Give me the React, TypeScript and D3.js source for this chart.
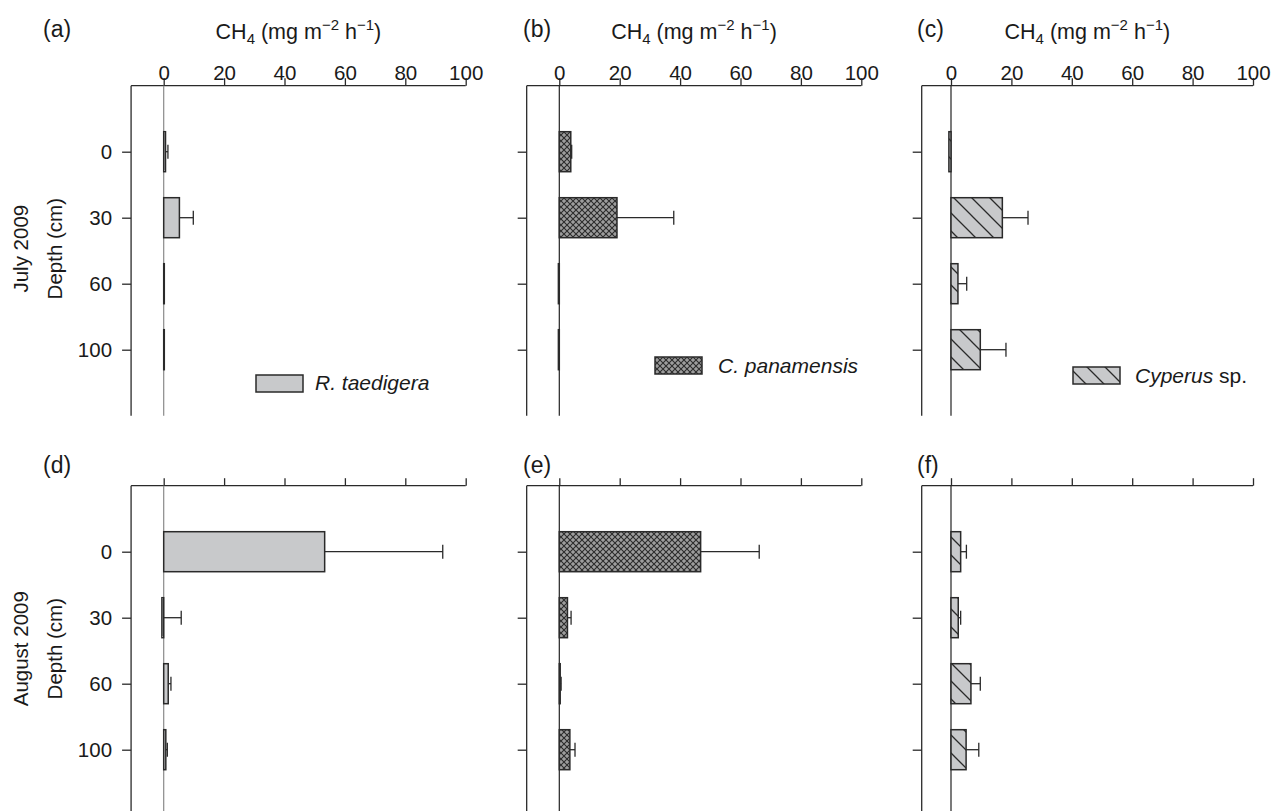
import React, { useRef, useEffect } from 'react';
import * as d3 from 'd3';

// Depth categories and x ticks
const depths = ['0', '30', '60', '100'];
const xTicks = [0, 20, 40, 60, 80, 100];

// July 2009 (mean, SE)
const julyTaedigera = [0.6, 5.2, 0.2, 0.2];
const julyTaedigeraErr = [0.8, 4.6, 0, 0];
const julyPanamensis = [3.8, 19.1, -0.3, -0.3];
const julyPanamensisErr = [0.3, 18.8, 0, 0];
const julyCyperus = [-0.7, 17.0, 2.3, 9.7];
const julyCyperusErr = [0, 8.5, 2.9, 8.5];

// August 2009 (mean, SE)
const augTaedigera = [53.3, -0.6, 1.5, 0.7];
const augTaedigeraErr = [39.1, 6.4, 0.9, 0.5];
const augPanamensis = [46.8, 2.7, 0.3, 3.5];
const augPanamensisErr = [19.4, 1.2, 0.3, 1.7];
const augCyperus = [3.2, 2.4, 6.6, 5.0];
const augCyperusErr = [1.9, 0.8, 3.1, 4.2];

const panelLabels = ['(a)', '(b)', '(c)', '(d)', '(e)', '(f)'];
const rowTitles = ['July 2009', 'August 2009'];
const speciesNames = ['R. taedigera', 'C. panamensis', 'Cyperus'];

const FONT = 'Arial, "Liberation Sans", Helvetica, sans-serif';
const INK = '#2a2a2a';

const App = () => {
  const ref = useRef(null);

  useEffect(() => {
    const svg = d3.select(ref.current);
    svg.selectAll('*').remove();

    // Fill patterns.
    const defs = svg.append('defs');
    defs.append('pattern')
      .attr('id', 'solid')
      .attr('patternUnits', 'userSpaceOnUse')
      .attr('width', 4).attr('height', 4)
      .append('rect').attr('width', 4).attr('height', 4).attr('fill', '#c8c9cb');

    const cross = defs.append('pattern')
      .attr('id', 'cross')
      .attr('patternUnits', 'userSpaceOnUse')
      .attr('width', 6).attr('height', 6);
    cross.append('rect').attr('width', 6).attr('height', 6).attr('fill', '#9d9d9d');
    cross.append('path')
      .attr('d', 'M0,0L6,6M6,0L0,6')
      .attr('stroke', '#2b2b2b').attr('stroke-width', 1.1);

    const hatch = defs.append('pattern')
      .attr('id', 'hatch')
      .attr('patternUnits', 'userSpaceOnUse')
      .attr('width', 18).attr('height', 18);
    hatch.append('rect').attr('width', 18).attr('height', 18).attr('fill', '#c8c9cb');
    hatch.append('path')
      .attr('d', 'M0,0L18,18M-2,16L2,20M16,-2L20,2')
      .attr('stroke', '#2a2a2a').attr('stroke-width', 1.3);

    const fills = ['url(#solid)', 'url(#cross)', 'url(#hatch)'];
    const zeroColors = ['#8a8a8a', '#222', '#222'];

    // Layout per column / row.
    const zeroX = [163.7, 559.3, 951];
    const xMin = [-10.8, -10.8, -9.7];
    const labelX = [43, 523, 917];
    const rowTop = [85.7, 485.7];
    const span = 302;

    const panels = [
      { values: julyTaedigera, errs: julyTaedigeraErr },
      { values: julyPanamensis, errs: julyPanamensisErr },
      { values: julyCyperus, errs: julyCyperusErr },
      { values: augTaedigera, errs: augTaedigeraErr },
      { values: augPanamensis, errs: augPanamensisErr },
      { values: augCyperus, errs: augCyperusErr },
    ];

    panels.forEach((p, i) => {
      const col = i % 3;
      const row = Math.floor(i / 3);
      const top = rowTop[row];
      const g = svg.append('g');

      const x = d3.scaleLinear().domain([0, 100]).range([zeroX[col], zeroX[col] + span]);
      const y = d3.scalePoint().domain(depths).range([top + 66, top + 264]);
      const left = x(xMin[col]);
      const bottom = top + 330;

      // Top axis
      const xAxis = g.append('g')
        .attr('transform', `translate(0,${top})`)
        .call(d3.axisTop(x)
          .tickValues(xTicks)
          .tickSize(7.5)
          .tickPadding(-1.8)
          .tickFormat(row === 0 ? d3.format('d') : () => ''));
      xAxis.select('.domain').remove();
      xAxis.selectAll('line').attr('stroke', INK).attr('stroke-width', 1.3);
      xAxis.selectAll('text')
        .attr('fill', '#1a1a1a')
        .style('font-family', FONT)
        .style('font-size', '20.5px');
      g.append('line')
        .attr('x1', left).attr('x2', x(100))
        .attr('y1', top).attr('y2', top)
        .attr('stroke', INK).attr('stroke-width', 1.3);

      // Left axis
      const yAxis = g.append('g')
        .attr('transform', `translate(${left},0)`)
        .call(d3.axisLeft(y).tickSize(9).tickPadding(10));
      yAxis.select('.domain').remove();
      yAxis.selectAll('line').attr('stroke', INK).attr('stroke-width', 1.3);
      yAxis.selectAll('text')
        .attr('fill', '#1a1a1a')
        .style('font-family', FONT)
        .style('font-size', '20.5px')
        .style('display', col === 0 ? null : 'none');
      g.append('line')
        .attr('x1', left).attr('x2', left)
        .attr('y1', top).attr('y2', bottom)
        .attr('stroke', INK).attr('stroke-width', 1.3);

      // Zero line
      g.append('line')
        .attr('x1', x(0)).attr('x2', x(0))
        .attr('y1', top).attr('y2', bottom)
        .attr('stroke', zeroColors[col]).attr('stroke-width', 1.2);

      const data = depths.map((d, k) => ({ depth: d, v: p.values[k], e: p.errs[k] }));

      // Error bars
      const err = data.filter(d => d.e > 0);
      g.selectAll('.err')
        .data(err)
        .join('line')
        .attr('x1', d => x(d.v)).attr('x2', d => x(d.v + d.e))
        .attr('y1', d => y(d.depth)).attr('y2', d => y(d.depth))
        .attr('stroke', INK).attr('stroke-width', 1.3);
      g.selectAll('.cap')
        .data(err)
        .join('line')
        .attr('x1', d => x(d.v + d.e)).attr('x2', d => x(d.v + d.e))
        .attr('y1', d => y(d.depth) - 7).attr('y2', d => y(d.depth) + 7)
        .attr('stroke', INK).attr('stroke-width', 1.3);

      // Bars
      g.selectAll('.bar')
        .data(data)
        .join('rect')
        .attr('x', d => x(Math.min(0, d.v)))
        .attr('width', d => Math.abs(x(d.v) - x(0)))
        .attr('y', d => y(d.depth) - 20)
        .attr('height', 40)
        .attr('fill', fills[col])
        .attr('stroke', INK)
        .attr('stroke-width', 1.5);

      // Panel letter
      g.append('text')
        .attr('x', labelX[col])
        .attr('y', row === 0 ? 37 : 473)
        .style('font-family', FONT)
        .style('font-size', '23px')
        .attr('fill', '#1a1a1a')
        .text(panelLabels[i]);

      // x title (top row only)
      if (row === 0) {
        const t = g.append('text')
          .attr('x', (left + x(100)) / 2)
          .attr('y', 39)
          .attr('text-anchor', 'middle')
          .style('font-family', FONT)
          .style('font-size', '21.5px')
          .attr('fill', '#1a1a1a');
        t.append('tspan').text('CH');
        t.append('tspan').attr('dy', 5).style('font-size', '15px').text('4');
        t.append('tspan').attr('dy', -5).text(' (mg m');
        t.append('tspan').attr('dy', -9).style('font-size', '15px').text('\u22122');
        t.append('tspan').attr('dy', 9).text(' h');
        t.append('tspan').attr('dy', -9).style('font-size', '15px').text('\u22121');
        t.append('tspan').attr('dy', 9).text(')');
      }
    });

    // Row titles
    rowTitles.forEach((title, r) => {
      const cy = rowTop[r] + 163;
      svg.append('text')
        .attr('transform', `translate(28,${cy}) rotate(-90)`)
        .attr('text-anchor', 'middle')
        .style('font-family', FONT)
        .style('font-size', '20.5px')
        .attr('fill', '#1a1a1a')
        .text(title);
      svg.append('text')
        .attr('transform', `translate(62,${cy}) rotate(-90)`)
        .attr('text-anchor', 'middle')
        .style('font-family', FONT)
        .style('font-size', '20.5px')
        .attr('fill', '#1a1a1a')
        .text('Depth (cm)');
    });

    // Legends
    const legends = [
      { rx: 256, ry: 375, tx: 315, ty: 390 },
      { rx: 655, ry: 357, tx: 718, ty: 373 },
      { rx: 1073, ry: 367, tx: 1135, ty: 383 },
    ];
    legends.forEach((l, k) => {
      svg.append('rect')
        .attr('x', l.rx).attr('y', l.ry)
        .attr('width', 47).attr('height', 17)
        .attr('fill', fills[k])
        .attr('stroke', INK).attr('stroke-width', 1.5);
      const t = svg.append('text')
        .attr('x', l.tx).attr('y', l.ty)
        .style('font-family', FONT)
        .style('font-size', '21px')
        .attr('fill', '#1a1a1a');
      t.append('tspan').style('font-style', 'italic').text(speciesNames[k]);
      if (k === 2) t.append('tspan').text(' sp.');
    });
  }, []);

  return (
    <svg
      ref={ref}
      width={1275}
      height={811}
      style={{ position: 'absolute', left: 0, top: 0, background: '#fff' }}
    />
  );
};

export default App;
